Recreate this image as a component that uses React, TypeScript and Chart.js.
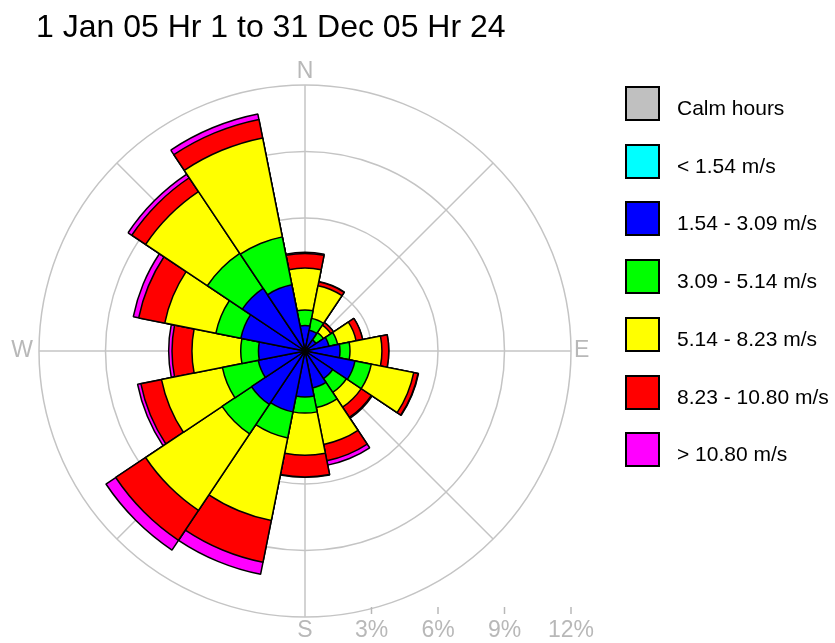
import React, { useEffect, useRef } from "react";
import { Chart, registerables } from "chart.js";

Chart.register(...registerables);

// ---- data (percent of hours) ----
const directions = ["N", "NNE", "NE", "ENE", "E", "ESE", "SE", "SSE", "S", "SSW", "SW", "WSW", "W", "WNW", "NW", "NNW"];
const speedBelow154 = [0.12, 0.12, 0.10, 0.10, 0.10, 0.10, 0.10, 0.10, 0.10, 0.10, 0.10, 0.10, 0.10, 0.10, 0.10, 0.10];
const speed154to309 = [1.03, 0.83, 0.50, 1.00, 1.48, 2.20, 1.40, 1.60, 1.97, 2.70, 2.80, 2.05, 2.00, 2.85, 3.30, 2.95];
const speed309to514 = [0.70, 0.55, 0.40, 0.40, 0.45, 0.75, 0.75, 0.90, 0.73, 1.20, 1.60, 1.65, 0.80, 1.15, 1.90, 2.20];
const speed514to823 = [1.89, 1.50, 0.40, 0.85, 1.44, 1.95, 0.80, 1.70, 1.90, 3.80, 4.15, 2.80, 2.20, 2.35, 3.35, 4.55];
const speed823to1080 = [0.66, 0.18, 0.15, 0.30, 0.31, 0.20, 0.55, 0.75, 0.98, 1.92, 1.62, 0.95, 0.90, 1.20, 0.75, 0.85];
const speedAbove1080 = [0.05, 0.02, 0.00, 0.00, 0.00, 0.02, 0.05, 0.20, 0.02, 0.55, 0.53, 0.15, 0.15, 0.25, 0.20, 0.25];

const ringTicks = [3, 6, 9, 12];
const ringTickLabels = ["3%", "6%", "9%", "12%"];
const compassLabels = ["N", "E", "S", "W"];
const legendLabels = ["Calm hours", "< 1.54 m/s", "1.54 - 3.09 m/s", "3.09 - 5.14 m/s", "5.14 - 8.23 m/s", "8.23 - 10.80 m/s", "> 10.80 m/s"];
const legendColors = ["#c0c0c0", "#00ffff", "#0000ff", "#00ff00", "#ffff00", "#ff0000", "#ff00ff"];
const titleText = "1 Jan 05 Hr 1 to 31 Dec 05 Hr 24";

const speedClasses = [speedBelow154, speed154to309, speed309to514, speed514to823, speed823to1080, speedAbove1080];

function buildDatasets() {
  // cumulative stacking: dataset 0 (smallest) is drawn last, on top
  const running = directions.map(() => 0);
  return speedClasses.map((cls, k) => {
    const data = cls.map((v, i) => {
      running[i] += v;
      return +running[i].toFixed(3);
    });
    return {
      label: legendLabels[k + 1],
      data,
      backgroundColor: legendColors[k + 1],
      borderColor: "#000000",
      borderWidth: 1.5,
    };
  });
}

const GRID = "#c4c4c4";
const LABEL = "#b8b8b8";
const FONT = "'Liberation Sans', Arial, sans-serif";

const decorPlugin = {
  id: "roseDecor",
  beforeDatasetsDraw(chart: any) {
    const r = chart.scales.r;
    const ctx = chart.ctx;
    const cx = r.xCenter;
    const cy = r.yCenter;
    const R = r.getDistanceFromCenterForValue(ringTicks[ringTicks.length - 1]);
    ctx.save();
    ctx.strokeStyle = GRID;
    ctx.lineWidth = 1.5;
    for (let k = 0; k < 8; k++) {
      const a = (k * Math.PI) / 4;
      ctx.beginPath();
      ctx.moveTo(cx, cy);
      ctx.lineTo(cx + Math.sin(a) * R, cy - Math.cos(a) * R);
      ctx.stroke();
    }
    ctx.restore();
  },
  afterDraw(chart: any) {
    const r = chart.scales.r;
    const ctx = chart.ctx;
    const cx = r.xCenter;
    const cy = r.yCenter;
    const R = r.getDistanceFromCenterForValue(ringTicks[ringTicks.length - 1]);
    ctx.save();

    // title
    ctx.fillStyle = "#000";
    ctx.font = `32px ${FONT}`;
    ctx.textAlign = "left";
    ctx.textBaseline = "alphabetic";
    ctx.fillText(titleText, 36, 37);

    // compass letters
    ctx.fillStyle = LABEL;
    ctx.font = `23px ${FONT}`;
    ctx.textAlign = "center";
    ctx.textBaseline = "middle";
    ctx.fillText(compassLabels[0], cx, cy - R - 13);
    ctx.fillText(compassLabels[2], cx, cy + R + 14);
    ctx.textAlign = "left";
    ctx.fillText(compassLabels[1], cx + R + 3, cy);
    ctx.textAlign = "right";
    ctx.fillText(compassLabels[3], cx - R - 6, cy);

    // ring scale along the bottom
    ctx.textAlign = "center";
    ctx.strokeStyle = LABEL;
    ctx.lineWidth = 1.5;
    ringTicks.forEach((v, i) => {
      const x = cx + r.getDistanceFromCenterForValue(v);
      ctx.beginPath();
      ctx.moveTo(x, cy + R - 10);
      ctx.lineTo(x, cy + R - 3);
      ctx.stroke();
      ctx.fillText(ringTickLabels[i], x, cy + R + 14);
    });

    // legend
    ctx.font = `21px ${FONT}`;
    ctx.textAlign = "left";
    ctx.textBaseline = "alphabetic";
    legendLabels.forEach((lab, i) => {
      const y = Math.round(87 + i * 57.7);
      ctx.fillStyle = legendColors[i];
      ctx.fillRect(626, y, 33, 33);
      ctx.strokeStyle = "#000";
      ctx.lineWidth = 2;
      ctx.strokeRect(626, y, 33, 33);
      ctx.fillStyle = "#000";
      ctx.fillText(lab, 677, y + 28);
    });
    ctx.restore();
  },
};

export default function App() {
  const canvasRef = useRef<HTMLCanvasElement | null>(null);

  useEffect(() => {
    if (!canvasRef.current) return;
    const chart = new Chart(canvasRef.current, {
      type: "polarArea",
      data: { labels: directions, datasets: buildDatasets() as any },
      options: {
        responsive: true,
        maintainAspectRatio: false,
        animation: false,
        layout: { padding: { left: 39, top: 85, right: 264, bottom: 26 } },
        plugins: {
          legend: { display: false },
          title: { display: false },
          tooltip: { enabled: false },
        },
        scales: {
          r: {
            min: 0,
            max: 12,
            startAngle: -11.25,
            ticks: { display: false, stepSize: 3 },
            grid: { circular: true, color: GRID, lineWidth: 1.5 },
            angleLines: { display: false },
            pointLabels: { display: false },
          },
        },
      } as any,
      plugins: [decorPlugin],
    });
    return () => chart.destroy();
  }, []);

  return (
    <div style={{ position: "fixed", left: 0, top: 0, width: 835, height: 643, background: "#fff" }}>
      <canvas ref={canvasRef} />
    </div>
  );
}
